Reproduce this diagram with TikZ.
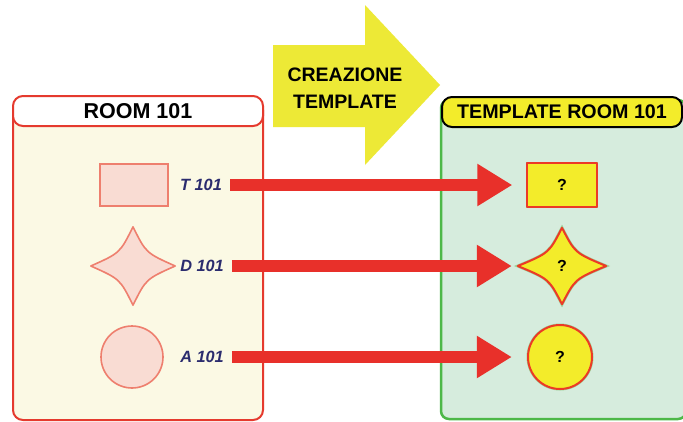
\documentclass[tikz,border=0pt]{standalone}
\usepackage{fontspec}
\setmainfont{Liberation Sans}
\usetikzlibrary{arrows.meta,calc}
\definecolor{cream}{HTML}{FBF9E4}
\definecolor{pred}{HTML}{E53A2E}
\definecolor{pinkfill}{HTML}{F9DCD3}
\definecolor{salmon}{HTML}{EE7F6E}
\definecolor{navy}{HTML}{2B2C6E}
\definecolor{gfill}{HTML}{D6ECDD}
\definecolor{gborder}{HTML}{4DB848}
\definecolor{ybar}{HTML}{F3EC2A}
\definecolor{yarrow}{HTML}{EDE936}
\definecolor{rarrow}{HTML}{E8302A}
\definecolor{sred}{HTML}{EC3A26}
\definecolor{sgreen}{HTML}{9CCF98}
\begin{document}
\begin{tikzpicture}[x=1pt,y=-1pt,
  titlebar/.style={rounded corners=10pt, line width=2pt, minimum height=30pt, inner sep=0pt},
  lshape/.style={fill=pinkfill, draw=salmon, line width=1.6pt},
  rshape/.style={fill=ybar, draw=sred, line width=2pt, line join=round, preaction={draw=sgreen, line width=3pt}},
  lbl/.style={font=\fontsize{16.3}{18}\selectfont\bfseries\itshape, text=navy, inner sep=3pt},
  qmark/.style={font=\fontsize{16}{18}\selectfont\bfseries, text=black, inner sep=0pt},
  bigarrow/.style={draw=rarrow, line width=12pt, -{Triangle[length=35pt,width=40pt]}}
]
\useasboundingbox[fill=white] (0,0) rectangle (683,421);

% left panel
\path[draw=pred, line width=2pt, fill=cream, rounded corners=10pt] (13,100) rectangle (263,420);
\node[titlebar, draw=pred, fill=white, minimum width=250pt, font=\fontsize{21.5}{24}\selectfont\bfseries] (lt) at (138,111) {ROOM 101};

% right panel
\path[draw=gborder, line width=2.5pt, fill=gfill, rounded corners=8pt] (441,100) rectangle (686,419);
\node[titlebar, draw=black, fill=ybar, minimum width=240pt, font=\fontsize{19.7}{22}\selectfont\bfseries] (rt) at (562,112) {TEMPLATE ROOM 101};

% big yellow arrow
\fill[yarrow] (273,45) -- (365,45) -- (365,5) -- (440,85) -- (365,165) -- (365,127) -- (273,127) -- cycle;
\node[align=center, font=\fontsize{19.5}{27}\selectfont\bfseries] (ct) at (345,88) {CREAZIONE\\TEMPLATE};

% left shapes
\node[lshape, minimum width=68pt, minimum height=42pt, inner sep=0pt] (lr) at (134,185) {};
\node[minimum width=84pt, minimum height=78pt, inner sep=0pt] (ls) at (133,266) {};
\draw[lshape, line join=round] (ls.north) .. controls ($(ls.center)+(13,-13)$) .. (ls.east)
  .. controls ($(ls.center)+(13,13)$) .. (ls.south)
  .. controls ($(ls.center)+(-13,13)$) .. (ls.west)
  .. controls ($(ls.center)+(-13,-13)$) .. (ls.north) -- cycle;
\node[lshape, circle, minimum size=62pt, inner sep=0pt] (lc) at (132,357) {};

% labels
\node[lbl] (t1) at (201,185) {T 101};
\node[lbl] (d1) at (202,266) {D 101};
\node[lbl] (a1) at (202,357) {A 101};

% right shapes
\node[minimum width=69pt, minimum height=43pt, inner sep=0pt] (rr) at (562,185) {};
\draw[rshape] (rr.north west) rectangle (rr.south east);
\node[qmark] (rrq) at (rr.center) {?};
\node[minimum width=88pt, minimum height=76pt, inner sep=0pt] (rs) at (562,266) {};
\draw[rshape] (rs.north) .. controls ($(rs.center)+(13,-13)$) .. (rs.east)
  .. controls ($(rs.center)+(13,13)$) .. (rs.south)
  .. controls ($(rs.center)+(-13,13)$) .. (rs.west)
  .. controls ($(rs.center)+(-13,-13)$) .. (rs.north) -- cycle;
\node[qmark] (rsq) at (rs.center) {?};
\node[minimum size=64pt, circle, inner sep=0pt] (rc) at (560,357) {};
\draw[rshape] (rc.center) circle[radius=32];
\node[qmark] (rcq) at (rc.center) {?};

% arrows
\draw[bigarrow, shorten <=5pt, shorten >=15pt] (t1.east) -- (rr.west);
\draw[bigarrow, shorten <=5pt, shorten >=6pt] (d1.east) -- (rs.west);
\draw[bigarrow, shorten <=5pt, shorten >=16pt] (a1.east) -- (rc.west);
\end{tikzpicture}
\end{document}
